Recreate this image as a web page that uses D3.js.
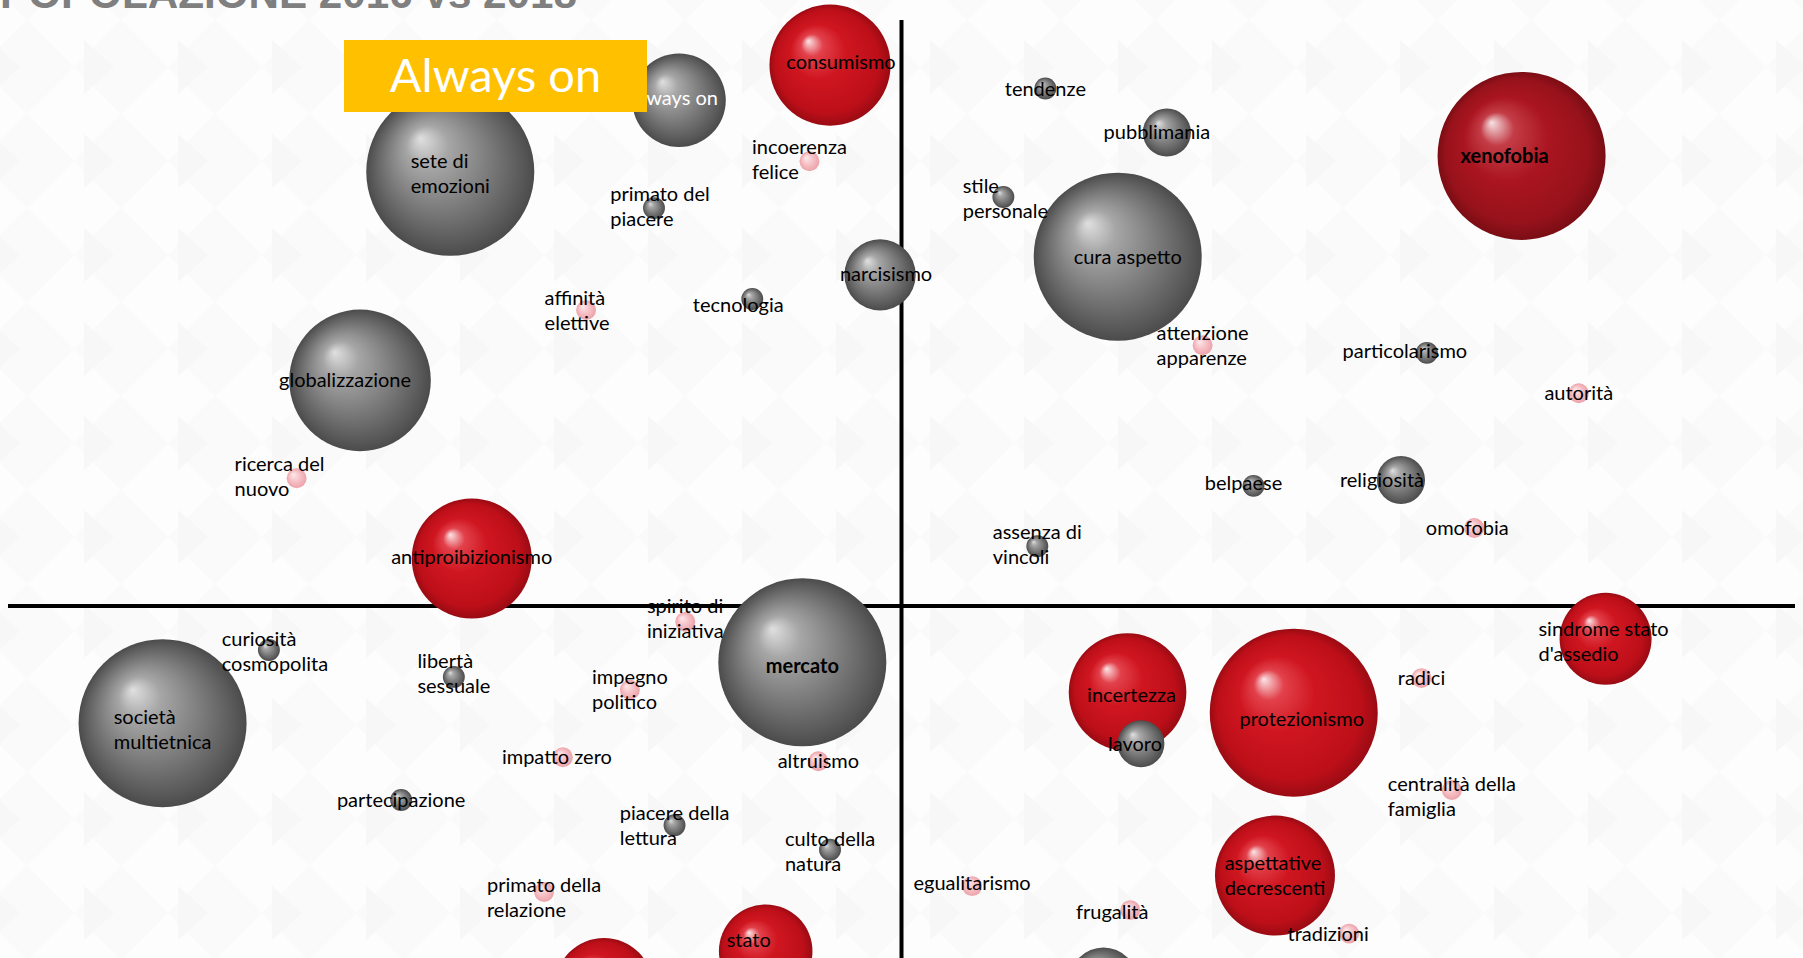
<!DOCTYPE html>
<html>
<head>
<meta charset="utf-8">
<script src="https://cdn.jsdelivr.net/npm/d3@7"></script>
<style>
  html, body { margin: 0; padding: 0; background: #fcfcfc; overflow: hidden; }
  svg { display: block; }
</style>
</head>
<body>
<div id="chart"></div>
<script>
// Dati della mappa: una voce per bolla (etichetta, asse x, asse y, dimensione, gruppo)
var labels = [
  "Always on", "consumismo", "sete di\nemozioni", "primato del\npiacere", "incoerenza\nfelice",
  "narcisismo", "tecnologia", "affinità\nelettive", "globalizzazione", "ricerca del\nnuovo",
  "antiproibizionismo", "spirito di\niniziativa", "mercato", "curiosità\ncosmopolita", "società\nmultietnica",
  "libertà\nsessuale", "impegno\npolitico", "impatto zero", "altruismo", "partecipazione",
  "piacere della\nlettura", "culto della\nnatura", "primato della\nrelazione", "stato", "",
  "tendenze", "pubblimania", "stile\npersonale", "cura aspetto", "xenofobia",
  "attenzione\napparenze", "particolarismo", "autorità", "belpaese", "religiosità",
  "omofobia", "assenza di\nvincoli", "sindrome stato\nd'assedio", "radici", "incertezza",
  "lavoro", "protezionismo", "centralità della\nfamiglia", "aspettative\ndecrescenti", "egualitarismo",
  "frugalità", "tradizioni", ""
];
var xValues = [
  -2.49, -0.80, -5.05, -2.77, -1.03,
  -0.24, -1.67, -3.53, -6.06, -6.77,
  -4.81, -2.42, -1.11, -7.08, -8.27,
  -5.01, -3.04, -3.79, -0.93, -5.60,
  -2.54, -0.80, -4.00, -1.52, -3.33,
  1.61, 2.97, 1.14, 2.42, 6.94,
  3.37, 5.88, 7.58, 3.94, 5.59,
  6.41, 1.52, 7.88, 5.82, 2.53,
  2.68, 4.39, 6.16, 4.18, 0.79,
  2.56, 5.01, 2.26
];
var yValues = [
  8.63, 9.23, 7.41, 6.79, 7.59,
  5.65, 5.24, 5.05, 3.85, 2.18,
  0.81, -0.27, -0.96, -0.75, -2.00,
  -1.21, -1.43, -2.58, -2.65, -3.31,
  -3.74, -4.16, -4.88, -5.89, -6.50,
  8.83, 8.08, 6.98, 5.96, 7.68,
  4.45, 4.32, 3.63, 2.05, 2.15,
  1.33, 1.02, -0.56, -1.23, -1.47,
  -2.35, -1.82, -3.14, -4.60, -4.78,
  -5.19, -5.59, -6.40
];
var sizes = [
  31, 52, 100, 1.7, 1.4,
  18, 1.7, 1.4, 71, 1.4,
  51, 1.4, 100, 1.7, 100,
  1.7, 1.4, 1.4, 1.4, 1.7,
  1.7, 1.7, 1.4, 31, 34,
  1.7, 8.2, 1.7, 100, 100,
  1.4, 1.7, 1.4, 1.7, 8.2,
  1.4, 1.7, 30, 1.4, 49,
  7.8, 100, 1.4, 51, 1.4,
  1.4, 1.4, 16
];
var groups = [
  "grigio", "rosso", "grigio", "grigio", "rosa",
  "grigio", "grigio", "rosa", "grigio", "rosa",
  "rosso", "rosa", "grigio", "grigio", "grigio",
  "grigio", "rosa", "rosa", "rosa", "grigio",
  "grigio", "grigio", "rosa", "rosso", "rosso",
  "grigio", "grigio", "grigio", "grigio", "bordeaux",
  "rosa", "grigio", "rosa", "grigio", "grigio",
  "rosa", "grigio", "rosso", "rosa", "rosso",
  "grigio", "rosso", "rosa", "rosso", "rosa",
  "rosa", "rosa", "grigio"
];
var titolo = "POPOLAZIONE 2016 vs 2018";
var riquadro = "Always on";

// Stili e piccoli spostamenti delle etichette (in pixel)
var grassetto = ["mercato", "xenofobia"];
var etichetteBianche = ["Always on"];
var spostamenti = {
  "Always on": [-6, -2],
  "consumismo": [11, -3], "xenofobia": [-17, 0], "globalizzazione": [-15, 0],
  "particolarismo": [-22, -2], "religiosità": [-19, 0], "frugalità": [-18, 2],
  "tradizioni": [-21, 0], "ricerca del\nnuovo": [-17, -2], "tecnologia": [-14, 6],
  "affinità\nelettive": [-9, 0], "incoerenza\nfelice": [-10, -2], "cura aspetto": [10, 0],
  "belpaese": [-10, -3], "pubblimania": [-10, -1], "stato": [-17, -11],
  "curiosità\ncosmopolita": [6, 2], "lavoro": [-6, 0], "protezionismo": [8, 6],
  "narcisismo": [6, -1], "omofobia": [-7, 0], "impatto zero": [-6, 0], "primato del\npiacere": [6, -2],
  "libertà\nsessuale": [0, -3], "spirito di\niniziativa": [0, -3], "sete di\nemozioni": [0, 2],
  "società\nmultietnica": [0, 6], "egualitarismo": [0, -3], "antiproibizionismo": [0, -2],
  "assenza di\nvincoli": [0, -2], "centralità della\nfamiglia": [0, 6], "mercato": [0, 4],
  "incertezza": [4, 3], "sindrome stato\nd'assedio": [-2, 3], "primato della\nrelazione": [0, 6],
  "culto della\nnatura": [0, 2], "stile\npersonale": [2, 2]
};

var width = 1803;
var height = 958;

var svg = d3.select("#chart").append("svg")
    .attr("width", width)
    .attr("height", height);

var defs = svg.append("defs");

// Sfondo con motivo a triangoli appena percettibile
var motivo = defs.append("pattern")
    .attr("id", "motivo")
    .attr("patternUnits", "userSpaceOnUse")
    .attr("width", 94)
    .attr("height", 94)
    .attr("x", -20)
    .attr("y", 20);
motivo.append("rect").attr("width", 94).attr("height", 94).attr("fill", "#fdfdfd");
motivo.append("path").attr("d", "M47,0 L94,47 L47,94 L0,47 Z").attr("fill", "#fafafa");
motivo.append("path").attr("d", "M10,20 L40,47 L10,74 Z").attr("fill", "#f7f7f7");

svg.append("rect")
    .attr("width", width)
    .attr("height", height)
    .attr("fill", "url(#motivo)");

// Gradienti radiali per l'effetto 3D delle bolle
var colori = {
  grigio: [[0, "#e0e0e0"], [0.25, "#a6a6a6"], [0.6, "#7c7c7c"], [0.9, "#585858"], [1, "#4b4b4b"]],
  rosso: [[0, "#fbe5e7"], [0.18, "#e2414b"], [0.45, "#cf1620"], [0.85, "#bd0f19"], [1, "#9a0b13"]],
  bordeaux: [[0, "#f6e3e5"], [0.2, "#c33c46"], [0.5, "#aa1520"], [0.85, "#97121b"], [1, "#7a0d14"]],
  rosa: [[0, "#fdeaec"], [0.5, "#f6c4c9"], [1, "#eda2a9"]]
};

Object.keys(colori).forEach(function(nome) {
    var grad = defs.append("radialGradient")
        .attr("id", "grad-" + nome)
        .attr("cx", "50%").attr("cy", "50%").attr("r", "50%")
        .attr("fx", "32%").attr("fy", "30%");
    colori[nome].forEach(function(s) {
        grad.append("stop").attr("offset", s[0]).attr("stop-color", s[1]);
    });
});

// Scale
var x = d3.scaleLinear().domain([-10, 10]).range([8, 1795]);
var y = d3.scaleLinear().domain([-10, 10]).range([1192, 20]);
var r = d3.scaleSqrt().domain([0, 100]).range([0, 84]);

// Titolo (tagliato in alto come nell'originale)
svg.append("text")
    .attr("x", 0)
    .attr("y", 8)
    .attr("font-family", "'Liberation Sans', Arial, sans-serif")
    .attr("font-weight", "bold")
    .attr("font-size", 42)
    .attr("textLength", 577)
    .attr("lengthAdjust", "spacingAndGlyphs")
    .attr("fill", "#7f7f7f")
    .text(titolo);

// Assi
svg.append("line")
    .attr("x1", x(0)).attr("x2", x(0))
    .attr("y1", y(10)).attr("y2", y(-10))
    .attr("stroke", "#000")
    .attr("stroke-width", 4);

svg.append("line")
    .attr("x1", x(-10)).attr("x2", x(10))
    .attr("y1", y(0)).attr("y2", y(0))
    .attr("stroke", "#000")
    .attr("stroke-width", 4);

// Costruisco le bolle dagli array
var bolle = labels.map(function(l, i) {
    return { label: l, x: xValues[i], y: yValues[i], size: sizes[i], group: groups[i] };
});

// Le bolle grandi vanno sotto
var ordinate = bolle.slice().sort(function(a, b) { return b.size - a.size; });

svg.append("g").selectAll("circle")
    .data(ordinate)
    .enter().append("circle")
    .attr("cx", function(d) { return x(d.x); })
    .attr("cy", function(d) { return y(d.y); })
    .attr("r", function(d) { return r(d.size); })
    .attr("fill", function(d) { return "url(#grad-" + d.group + ")"; });

// Etichette centrate sulla bolla, righe allineate a sinistra
var lineHeight = 25;
var gEtichette = svg.append("g");

bolle.forEach(function(d) {
    if (!d.label) return;
    var righe = d.label.split("\n");
    var g = gEtichette.append("g");
    var t = g.append("text")
        .attr("font-family", "Lato, 'Open Sans', sans-serif")
        .attr("font-size", 20)
        .attr("font-weight", grassetto.indexOf(d.label) >= 0 ? "bold" : "normal")
        .attr("fill", etichetteBianche.indexOf(d.label) >= 0 ? "#ffffff" : "#000000");

    var w = 0;
    righe.forEach(function(riga, i) {
        var ts = t.append("tspan")
            .attr("x", 0)
            .attr("y", i * lineHeight)
            .text(riga);
        w = Math.max(w, ts.node().getComputedTextLength());
    });

    var sp = spostamenti[d.label] || [0, 0];
    var left = x(d.x) - w / 2 + sp[0];
    var top = y(d.y) - (righe.length - 1) * lineHeight / 2 + 7 + sp[1];
    g.attr("transform", "translate(" + left + "," + top + ")");
});

// Riquadro giallo "Always on"
svg.append("rect")
    .attr("x", 344)
    .attr("y", 40)
    .attr("width", 303)
    .attr("height", 72)
    .attr("fill", "#ffc000");

svg.append("text")
    .attr("x", 344 + 303 / 2)
    .attr("y", 92)
    .attr("text-anchor", "middle")
    .attr("font-family", "Lato, 'Open Sans', sans-serif")
    .attr("font-size", 47)
    .attr("fill", "#ffffff")
    .text(riquadro);
</script>
</body>
</html>
